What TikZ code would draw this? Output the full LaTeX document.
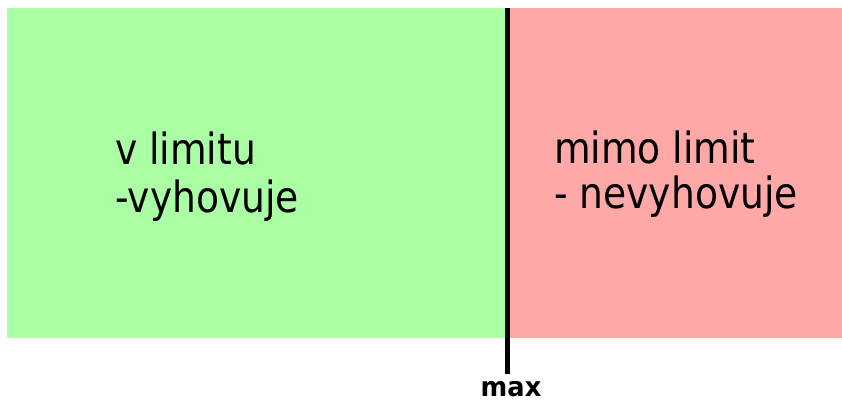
\documentclass[tikz,border=0pt]{standalone}
\usepackage{fontspec}
\setmainfont{DejaVu Sans}[FakeStretch=0.875]
\newfontfamily\maxfont{DejaVu Sans}[FakeStretch=0.95]
\definecolor{okgreen}{RGB}{170,255,165}
\definecolor{badred}{RGB}{255,168,168}
\begin{document}
\begin{tikzpicture}[x=1pt,y=-1pt,
  lbl/.style={inner sep=0pt,anchor=base west,font=\fontsize{43}{48}\selectfont},
  limitline/.style={line width=5pt}]
\useasboundingbox (0,0) rectangle (842,403);
\fill[okgreen] (7,8) rectangle (506,338);
\fill[badred] (507,8) rectangle (842,338);
\node[lbl] (g1) at (115,165) {v limitu};
\node[lbl] (g2) at (115,212) {-vyhovuje};
\node[lbl] (r1) at (554,164) {mimo limit};
\node[lbl] (r2) at (554,208) {- nevyhovuje};
\coordinate (top) at (507,8);
\coordinate (bot) at (507,374);
\draw[limitline] (top) -- (bot);
\node[inner sep=0pt,anchor=base,font=\maxfont\bfseries\fontsize{27}{30}\selectfont] (mx) at (511,396) {max};
\end{tikzpicture}
\end{document}
